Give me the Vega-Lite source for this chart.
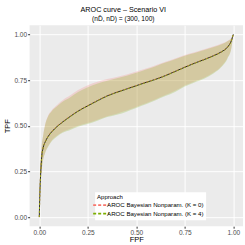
{
  "$schema": "https://vega.github.io/schema/vega-lite/v6.json",
  "autosize": "none",
  "width": 213.4,
  "height": 201,
  "padding": {"left": 29.6, "top": 25.2, "right": 2, "bottom": 18.8},
  "background": "white",
  "title": {
    "text": "AROC curve – Scenario VI",
    "subtitle": "(nD̄, nD) = (300, 100)",
    "font": "Liberation Sans",
    "subtitleFont": "Liberation Sans",
    "fontSize": 7.2,
    "subtitleFontSize": 6.6,
    "fontWeight": "normal",
    "color": "black",
    "subtitleColor": "black",
    "anchor": "middle",
    "frame": "group",
    "dx": -13,
    "offset": 3,
    "subtitlePadding": 2
  },
  "config": {
    "view": {"fill": "#EBEBEB", "stroke": null},
    "font": "Liberation Sans",
    "axis": {
      "domain": false,
      "tickColor": "#333333",
      "tickSize": 2,
      "labelFontSize": 6.5,
      "labelColor": "#4D4D4D",
      "labelPadding": 1,
      "labelFlush": false,
      "labelOverlap": false,
      "titleFontSize": 7.5,
      "titleFontWeight": "normal",
      "titleColor": "black",
      "gridColor": "white"
    },
    "legend": {
      "orient": "none",
      "legendX": 65.5,
      "legendY": 167,
      "fillColor": "white",
      "padding": 2,
      "titleFontSize": 6,
      "titleFontWeight": "normal",
      "titleColor": "black",
      "titlePadding": 1,
      "labelFontSize": 6.1,
      "labelColor": "black",
      "labelOffset": 2,
      "rowPadding": 0.5,
      "symbolType": "M-3,0H3",
      "symbolSize": 28,
      "symbolStrokeWidth": 1.8,
      "symbolOpacity": 1,
      "symbolDash": [3, 2]
    }
  },
  "datasets": {
    "band": [
      {"fpf": 0, "est": 0, "lower": 0, "upper": 0, "approach": "AROC Bayesian Nonparam. (K = 0)"},
      {"fpf": 0.003, "est": 0.13, "lower": 0.08, "upper": 0.22, "approach": "AROC Bayesian Nonparam. (K = 0)"},
      {"fpf": 0.007, "est": 0.236, "lower": 0.2, "upper": 0.31, "approach": "AROC Bayesian Nonparam. (K = 0)"},
      {"fpf": 0.012, "est": 0.326, "lower": 0.262, "upper": 0.386, "approach": "AROC Bayesian Nonparam. (K = 0)"},
      {"fpf": 0.02, "est": 0.381, "lower": 0.317, "upper": 0.448, "approach": "AROC Bayesian Nonparam. (K = 0)"},
      {"fpf": 0.03, "est": 0.412, "lower": 0.354, "upper": 0.506, "approach": "AROC Bayesian Nonparam. (K = 0)"},
      {"fpf": 0.045, "est": 0.442, "lower": 0.388, "upper": 0.554, "approach": "AROC Bayesian Nonparam. (K = 0)"},
      {"fpf": 0.065, "est": 0.47, "lower": 0.421, "upper": 0.586, "approach": "AROC Bayesian Nonparam. (K = 0)"},
      {"fpf": 0.09, "est": 0.496, "lower": 0.445, "upper": 0.612, "approach": "AROC Bayesian Nonparam. (K = 0)"},
      {"fpf": 0.12, "est": 0.522, "lower": 0.466, "upper": 0.639, "approach": "AROC Bayesian Nonparam. (K = 0)"},
      {"fpf": 0.16, "est": 0.553, "lower": 0.483, "upper": 0.666, "approach": "AROC Bayesian Nonparam. (K = 0)"},
      {"fpf": 0.2, "est": 0.581, "lower": 0.5, "upper": 0.695, "approach": "AROC Bayesian Nonparam. (K = 0)"},
      {"fpf": 0.25, "est": 0.61, "lower": 0.515, "upper": 0.722, "approach": "AROC Bayesian Nonparam. (K = 0)"},
      {"fpf": 0.3, "est": 0.638, "lower": 0.533, "upper": 0.741, "approach": "AROC Bayesian Nonparam. (K = 0)"},
      {"fpf": 0.35, "est": 0.664, "lower": 0.552, "upper": 0.755, "approach": "AROC Bayesian Nonparam. (K = 0)"},
      {"fpf": 0.4, "est": 0.684, "lower": 0.566, "upper": 0.767, "approach": "AROC Bayesian Nonparam. (K = 0)"},
      {"fpf": 0.45, "est": 0.702, "lower": 0.583, "upper": 0.78, "approach": "AROC Bayesian Nonparam. (K = 0)"},
      {"fpf": 0.5, "est": 0.72, "lower": 0.603, "upper": 0.797, "approach": "AROC Bayesian Nonparam. (K = 0)"},
      {"fpf": 0.55, "est": 0.738, "lower": 0.623, "upper": 0.813, "approach": "AROC Bayesian Nonparam. (K = 0)"},
      {"fpf": 0.6, "est": 0.755, "lower": 0.645, "upper": 0.831, "approach": "AROC Bayesian Nonparam. (K = 0)"},
      {"fpf": 0.65, "est": 0.775, "lower": 0.668, "upper": 0.85, "approach": "AROC Bayesian Nonparam. (K = 0)"},
      {"fpf": 0.7, "est": 0.798, "lower": 0.691, "upper": 0.868, "approach": "AROC Bayesian Nonparam. (K = 0)"},
      {"fpf": 0.75, "est": 0.821, "lower": 0.72, "upper": 0.887, "approach": "AROC Bayesian Nonparam. (K = 0)"},
      {"fpf": 0.8, "est": 0.843, "lower": 0.742, "upper": 0.902, "approach": "AROC Bayesian Nonparam. (K = 0)"},
      {"fpf": 0.85, "est": 0.863, "lower": 0.762, "upper": 0.918, "approach": "AROC Bayesian Nonparam. (K = 0)"},
      {"fpf": 0.9, "est": 0.885, "lower": 0.792, "upper": 0.935, "approach": "AROC Bayesian Nonparam. (K = 0)"},
      {"fpf": 0.94, "est": 0.906, "lower": 0.827, "upper": 0.95, "approach": "AROC Bayesian Nonparam. (K = 0)"},
      {"fpf": 0.97, "est": 0.931, "lower": 0.872, "upper": 0.964, "approach": "AROC Bayesian Nonparam. (K = 0)"},
      {"fpf": 0.99, "est": 0.966, "lower": 0.927, "upper": 0.981, "approach": "AROC Bayesian Nonparam. (K = 0)"},
      {"fpf": 1, "est": 1, "lower": 1, "upper": 1, "approach": "AROC Bayesian Nonparam. (K = 0)"},
      {"fpf": 0, "est": 0, "lower": 0, "upper": 0, "approach": "AROC Bayesian Nonparam. (K = 4)"},
      {"fpf": 0.003, "est": 0.129, "lower": 0.078, "upper": 0.218, "approach": "AROC Bayesian Nonparam. (K = 4)"},
      {"fpf": 0.007, "est": 0.234, "lower": 0.197, "upper": 0.308, "approach": "AROC Bayesian Nonparam. (K = 4)"},
      {"fpf": 0.012, "est": 0.324, "lower": 0.258, "upper": 0.384, "approach": "AROC Bayesian Nonparam. (K = 4)"},
      {"fpf": 0.02, "est": 0.379, "lower": 0.313, "upper": 0.446, "approach": "AROC Bayesian Nonparam. (K = 4)"},
      {"fpf": 0.03, "est": 0.409, "lower": 0.35, "upper": 0.504, "approach": "AROC Bayesian Nonparam. (K = 4)"},
      {"fpf": 0.045, "est": 0.439, "lower": 0.383, "upper": 0.55, "approach": "AROC Bayesian Nonparam. (K = 4)"},
      {"fpf": 0.065, "est": 0.467, "lower": 0.416, "upper": 0.581, "approach": "AROC Bayesian Nonparam. (K = 4)"},
      {"fpf": 0.09, "est": 0.493, "lower": 0.44, "upper": 0.605, "approach": "AROC Bayesian Nonparam. (K = 4)"},
      {"fpf": 0.12, "est": 0.519, "lower": 0.461, "upper": 0.631, "approach": "AROC Bayesian Nonparam. (K = 4)"},
      {"fpf": 0.16, "est": 0.55, "lower": 0.477, "upper": 0.656, "approach": "AROC Bayesian Nonparam. (K = 4)"},
      {"fpf": 0.2, "est": 0.579, "lower": 0.494, "upper": 0.684, "approach": "AROC Bayesian Nonparam. (K = 4)"},
      {"fpf": 0.25, "est": 0.608, "lower": 0.509, "upper": 0.711, "approach": "AROC Bayesian Nonparam. (K = 4)"},
      {"fpf": 0.3, "est": 0.636, "lower": 0.527, "upper": 0.731, "approach": "AROC Bayesian Nonparam. (K = 4)"},
      {"fpf": 0.35, "est": 0.662, "lower": 0.547, "upper": 0.746, "approach": "AROC Bayesian Nonparam. (K = 4)"},
      {"fpf": 0.4, "est": 0.682, "lower": 0.56, "upper": 0.76, "approach": "AROC Bayesian Nonparam. (K = 4)"},
      {"fpf": 0.45, "est": 0.7, "lower": 0.577, "upper": 0.773, "approach": "AROC Bayesian Nonparam. (K = 4)"},
      {"fpf": 0.5, "est": 0.718, "lower": 0.597, "upper": 0.79, "approach": "AROC Bayesian Nonparam. (K = 4)"},
      {"fpf": 0.55, "est": 0.736, "lower": 0.617, "upper": 0.808, "approach": "AROC Bayesian Nonparam. (K = 4)"},
      {"fpf": 0.6, "est": 0.753, "lower": 0.639, "upper": 0.826, "approach": "AROC Bayesian Nonparam. (K = 4)"},
      {"fpf": 0.65, "est": 0.773, "lower": 0.662, "upper": 0.846, "approach": "AROC Bayesian Nonparam. (K = 4)"},
      {"fpf": 0.7, "est": 0.796, "lower": 0.685, "upper": 0.864, "approach": "AROC Bayesian Nonparam. (K = 4)"},
      {"fpf": 0.75, "est": 0.819, "lower": 0.715, "upper": 0.883, "approach": "AROC Bayesian Nonparam. (K = 4)"},
      {"fpf": 0.8, "est": 0.841, "lower": 0.737, "upper": 0.898, "approach": "AROC Bayesian Nonparam. (K = 4)"},
      {"fpf": 0.85, "est": 0.861, "lower": 0.757, "upper": 0.914, "approach": "AROC Bayesian Nonparam. (K = 4)"},
      {"fpf": 0.9, "est": 0.883, "lower": 0.787, "upper": 0.931, "approach": "AROC Bayesian Nonparam. (K = 4)"},
      {"fpf": 0.94, "est": 0.904, "lower": 0.822, "upper": 0.946, "approach": "AROC Bayesian Nonparam. (K = 4)"},
      {"fpf": 0.97, "est": 0.929, "lower": 0.867, "upper": 0.962, "approach": "AROC Bayesian Nonparam. (K = 4)"},
      {"fpf": 0.99, "est": 0.964, "lower": 0.922, "upper": 0.979, "approach": "AROC Bayesian Nonparam. (K = 4)"},
      {"fpf": 1, "est": 1, "lower": 1, "upper": 1, "approach": "AROC Bayesian Nonparam. (K = 4)"}
    ],
    "truth": [
      {"fpf": 0, "tpf": 0},
      {"fpf": 0.003, "tpf": 0.13},
      {"fpf": 0.007, "tpf": 0.235},
      {"fpf": 0.012, "tpf": 0.325},
      {"fpf": 0.02, "tpf": 0.38},
      {"fpf": 0.03, "tpf": 0.41},
      {"fpf": 0.045, "tpf": 0.44},
      {"fpf": 0.065, "tpf": 0.468},
      {"fpf": 0.09, "tpf": 0.494},
      {"fpf": 0.12, "tpf": 0.52},
      {"fpf": 0.16, "tpf": 0.551},
      {"fpf": 0.2, "tpf": 0.58},
      {"fpf": 0.25, "tpf": 0.609},
      {"fpf": 0.3, "tpf": 0.637},
      {"fpf": 0.35, "tpf": 0.663},
      {"fpf": 0.4, "tpf": 0.683},
      {"fpf": 0.45, "tpf": 0.701},
      {"fpf": 0.5, "tpf": 0.719},
      {"fpf": 0.55, "tpf": 0.737},
      {"fpf": 0.6, "tpf": 0.754},
      {"fpf": 0.65, "tpf": 0.774},
      {"fpf": 0.7, "tpf": 0.797},
      {"fpf": 0.75, "tpf": 0.82},
      {"fpf": 0.8, "tpf": 0.842},
      {"fpf": 0.85, "tpf": 0.862},
      {"fpf": 0.9, "tpf": 0.884},
      {"fpf": 0.94, "tpf": 0.905},
      {"fpf": 0.97, "tpf": 0.93},
      {"fpf": 0.99, "tpf": 0.965},
      {"fpf": 1, "tpf": 1}
    ]
  },
  "layer": [
    {
      "data": {"name": "band"},
      "mark": {"type": "area", "opacity": 0.22, "interpolate": "monotone"},
      "encoding": {
        "x": {
          "field": "fpf", "type": "quantitative", "title": "FPF",
          "scale": {"domain": [-0.05, 1.05], "nice": false, "zero": false},
          "axis": {
            "values": [0, 0.125, 0.25, 0.375, 0.5, 0.625, 0.75, 0.875, 1],
            "labelExpr": "datum.value % 0.25 === 0 ? format(datum.value, '.2f') : ''",
            "tickOpacity": {"condition": {"test": "datum.value % 0.25 !== 0", "value": 0}, "value": 1},
            "gridWidth": {"condition": {"test": "datum.value % 0.25 !== 0", "value": 0.5}, "value": 1},
            "titlePadding": 0
          }
        },
        "y": {
          "field": "lower", "type": "quantitative", "title": "TPF",
          "scale": {"domain": [-0.05, 1.05], "nice": false, "zero": false},
          "axis": {
            "values": [0, 0.125, 0.25, 0.375, 0.5, 0.625, 0.75, 0.875, 1],
            "labelExpr": "datum.value % 0.25 === 0 ? format(datum.value, '.2f') : ''",
            "tickOpacity": {"condition": {"test": "datum.value % 0.25 !== 0", "value": 0}, "value": 1},
            "gridWidth": {"condition": {"test": "datum.value % 0.25 !== 0", "value": 0.5}, "value": 1},
            "titlePadding": 2
          }
        },
        "y2": {"field": "upper"},
        "color": {
          "field": "approach", "type": "nominal", "title": "Approach",
          "scale": {"domain": ["AROC Bayesian Nonparam. (K = 0)", "AROC Bayesian Nonparam. (K = 4)"], "range": ["#F8766D", "#7CAE00"]}
        }
      }
    },
    {
      "data": {"name": "truth"},
      "mark": {"type": "line", "color": "black", "strokeWidth": 0.8, "interpolate": "monotone"},
      "encoding": {
        "x": {"field": "fpf", "type": "quantitative"},
        "y": {"field": "tpf", "type": "quantitative"}
      }
    },
    {
      "data": {"name": "band"},
      "mark": {"type": "line", "strokeWidth": 0.8, "strokeDash": [2, 2], "interpolate": "monotone"},
      "encoding": {
        "x": {"field": "fpf", "type": "quantitative"},
        "y": {"field": "est", "type": "quantitative"},
        "color": {"field": "approach", "type": "nominal"}
      }
    }
  ]
}
